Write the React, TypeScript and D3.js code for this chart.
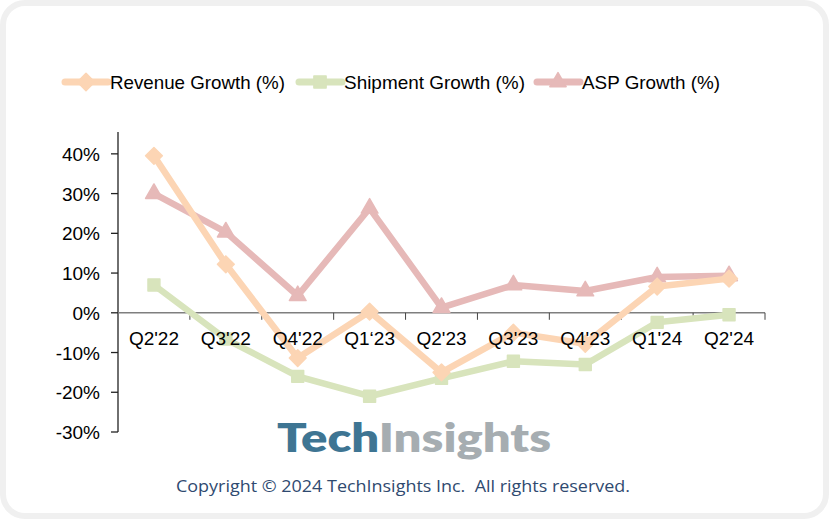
import { useEffect, useRef } from "react";
import * as d3 from "d3";

const quarters = ["Q2'22", "Q3'22", "Q4'22", "Q1\u201823", "Q2'23", "Q3'23", "Q4'23", "Q1'24", "Q2'24"];
const revenueGrowth = [39.5, 12.2, -11.4, 0.3, -15.0, -5.0, -7.8, 6.6, 8.6];
const shipmentGrowth = [7.0, -6.6, -16.0, -21.0, -16.5, -12.2, -13.0, -2.4, -0.5];
const aspGrowth = [30.0, 20.3, 4.3, 26.3, 1.3, 7.0, 5.5, 9.0, 9.3];
const yTicks = [-30, -20, -10, 0, 10, 20, 30, 40];

const series = [
  { name: "Revenue Growth (%)", values: revenueGrowth, color: "#FCD5B4", marker: d3.symbolDiamond2 },
  { name: "Shipment Growth (%)", values: shipmentGrowth, color: "#D8E4BC", marker: d3.symbolSquare2 },
  { name: "ASP Growth (%)", values: aspGrowth, color: "#E6B9B8", marker: d3.symbolTriangle2 },
];

const W = 835;
const H = 522;
const FONT = "Liberation Sans, Arial, sans-serif";

const App = () => {
  const svgRef = useRef<SVGSVGElement | null>(null);

  useEffect(() => {
    const svg = d3.select(svgRef.current);
    svg.selectAll("*").remove();

    // card frame
    svg
      .append("rect")
      .attr("x", 3)
      .attr("y", 3)
      .attr("width", W - 12)
      .attr("height", H - 9)
      .attr("rx", 22)
      .attr("fill", "#fff")
      .attr("stroke", "#f0f0f0")
      .attr("stroke-width", 6);

    const x = d3.scaleBand<string>().domain(quarters).range([118, 765]).padding(0);
    const y = d3.scaleLinear().domain([-30, 45.5]).range([432, 132]);
    const cx = (d: string) => (x(d) || 0) + x.bandwidth() / 2;

    // y axis
    svg
      .append("line")
      .attr("x1", 118)
      .attr("x2", 118)
      .attr("y1", y(45.5))
      .attr("y2", y(-30))
      .attr("stroke", "#222")
      .attr("stroke-width", 1.3);
    yTicks.forEach((t) => {
      svg
        .append("line")
        .attr("x1", 111)
        .attr("x2", 118)
        .attr("y1", y(t))
        .attr("y2", y(t))
        .attr("stroke", "#222")
        .attr("stroke-width", 1.3);
      svg
        .append("text")
        .attr("x", 100)
        .attr("y", y(t) + 7)
        .attr("text-anchor", "end")
        .attr("font-family", FONT)
        .attr("font-size", 19)
        .attr("fill", "#000")
        .text(`${t}%`);
    });

    // x axis at zero
    svg
      .append("line")
      .attr("x1", 118)
      .attr("x2", 765)
      .attr("y1", y(0))
      .attr("y2", y(0))
      .attr("stroke", "#7f7f7f")
      .attr("stroke-width", 1.5);
    const boundaries = quarters.map((q) => (x(q) || 0) + x.bandwidth());
    boundaries.forEach((b) => {
      svg
        .append("line")
        .attr("x1", b)
        .attr("x2", b)
        .attr("y1", y(0))
        .attr("y2", y(0) + 7)
        .attr("stroke", "#444")
        .attr("stroke-width", 1);
    });

    // series lines + markers
    const line = d3
      .line<number>()
      .x((_, i) => cx(quarters[i]))
      .y((d) => y(d));

    [series[2], series[1], series[0]].forEach((s) => {
      svg
        .append("path")
        .attr("d", line(s.values) || "")
        .attr("fill", "none")
        .attr("stroke", s.color)
        .attr("stroke-width", 6.5)
        .attr("stroke-linejoin", "round");
      const sym = d3.symbol().type(s.marker).size(s.marker === d3.symbolTriangle2 ? 200 : 180);
      s.values.forEach((v, i) => {
        svg
          .append("path")
          .attr("d", sym() || "")
          .attr("transform", `translate(${cx(quarters[i])},${y(v)})`)
          .attr("fill", s.color)
          .attr("stroke", s.color)
          .attr("stroke-width", 1.5)
          .attr("stroke-linejoin", "round");
      });
    });

    // x labels
    quarters.forEach((q) => {
      svg
        .append("text")
        .attr("x", cx(q))
        .attr("y", y(0) + 32)
        .attr("text-anchor", "middle")
        .attr("font-family", FONT)
        .attr("font-size", 19)
        .attr("fill", "#000")
        .text(q);
    });

    // legend
    const legendX = [63, 297, 535];
    const legendW = [175, 181, 138];
    series.forEach((s, i) => {
      const lx = legendX[i];
      const g = svg.append("g").attr("transform", `translate(${lx},82)`);
      g.append("line")
        .attr("x1", 2)
        .attr("x2", 45)
        .attr("y1", 0)
        .attr("y2", 0)
        .attr("stroke", s.color)
        .attr("stroke-width", 7)
        .attr("stroke-linecap", "round");
      g.append("path")
        .attr("d", d3.symbol().type(s.marker).size(190)() || "")
        .attr("transform", "translate(23,0)")
        .attr("fill", s.color)
        .attr("stroke", s.color)
        .attr("stroke-width", 1.5)
        .attr("stroke-linejoin", "round");
      g.append("text")
        .attr("x", 47)
        .attr("y", 7)
        .attr("font-family", FONT)
        .attr("font-size", 19)
        .attr("fill", "#000")
        .attr("textLength", legendW[i])
        .attr("lengthAdjust", "spacingAndGlyphs")
        .text(s.name);
    });

    // watermark logo
    const logo = svg
      .append("text")
      .attr("x", 277)
      .attr("y", 452)
      .attr("font-family", "Lato, Open Sans, sans-serif")
      .attr("font-weight", 800)
      .attr("font-size", 40)
      .attr("textLength", 274)
      .attr("lengthAdjust", "spacingAndGlyphs");
    logo.append("tspan").attr("fill", "#3E7593").text("Tech");
    logo.append("tspan").attr("fill", "#A6ADB1").text("Insights");

    svg
      .append("text")
      .attr("x", 176)
      .attr("y", 492)
      .attr("font-family", "Open Sans, Noto Sans, sans-serif")
      .attr("font-size", 17)
      .attr("fill", "#2F4A70")
      .attr("textLength", 454)
      .attr("lengthAdjust", "spacingAndGlyphs")
      .attr("xml:space", "preserve")
      .text("Copyright \u00A9 2024 TechInsights Inc.  All rights reserved.");
  }, []);

  return (
    <div style={{ position: "absolute", left: 0, top: 0 }}>
      <svg ref={svgRef} width={W} height={H} style={{ display: "block" }} />
    </div>
  );
};

export default App;
